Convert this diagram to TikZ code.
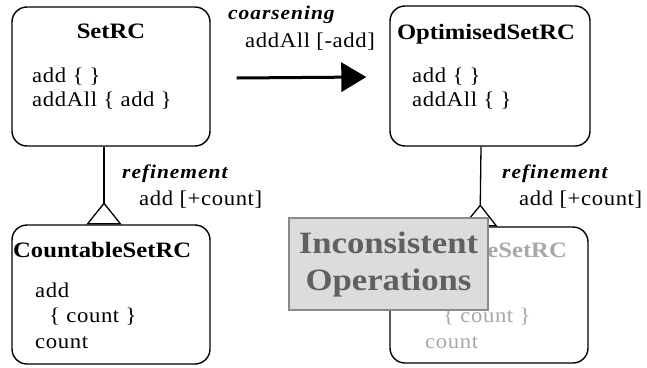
\documentclass[tikz,border=0pt]{standalone}
\usepackage{fontspec}
\usetikzlibrary{arrows.meta}
\newfontfamily\bodyf{Liberation Serif}[LetterSpace=3,FakeStretch=1.08]
\newfontfamily\titlef{Liberation Serif}[FakeStretch=1.12]
\newfontfamily\labelf{Liberation Serif}[LetterSpace=5,FakeStretch=1.1]
\definecolor{fadetext}{HTML}{A8A8A8}
\definecolor{warnfill}{HTML}{DCDCDC}
\definecolor{warnline}{HTML}{8A8A8A}
\definecolor{warntext}{HTML}{606060}
\tikzset{
  classbox/.style={draw, line width=1.4pt, rounded corners=15pt, fill=white, inner sep=0pt},
  classtitle/.style={inner sep=0pt, font=\titlef\bfseries\fontsize{22}{26}\selectfont},
  member/.style={inner sep=0pt, anchor=base west, font=\bodyf\fontsize{21}{26}\selectfont},
  relname/.style={inner sep=0pt, anchor=base west, font=\labelf\bfseries\itshape\fontsize{19.5}{24}\selectfont},
  reflink/.style={line width=1.3pt, -{Triangle[open,reversed,length=22pt,width=35pt,line width=1.3pt]}},
  coarselink/.style={line width=3pt, -{Triangle[length=25pt,width=29pt]}},
  warnbox/.style={draw=warnline, line width=1.5pt, fill=warnfill, inner sep=0pt},
  warnlabel/.style={inner sep=0pt, text=warntext, font=\titlef\bfseries\fontsize{31}{36}\selectfont}
}
\begin{document}
\begin{tikzpicture}[x=1pt,y=-1pt]
\useasboundingbox (0,0) rectangle (647,367);

% class boxes
\node[classbox, minimum width=198pt, minimum height=139pt] (setrc) at (111,76.5) {};
\node[classbox, minimum width=200pt, minimum height=140pt] (opt) at (490,76) {};
\node[classbox, minimum width=198pt, minimum height=139pt] (count) at (111,294.5) {};
\node[classbox, minimum width=198pt, minimum height=136pt] (optcount) at (489,295) {};

% SetRC
\node[classtitle, anchor=base] (setrcT) at (111,38) {SetRC};
\node[member] (setrcA) at (32,82) {add \{ \}};
\node[member] (setrcB) at (32,106) {addAll \{ add \}};

% OptimisedSetRC
\node[classtitle, anchor=base] (optT) at (486,39) {OptimisedSetRC};
\node[member] (optA) at (412,82) {add \{ \}};
\node[member] (optB) at (412,106) {addAll \{ \}};

% CountableSetRC
\node[classtitle, anchor=base west] (countT) at (13,257) {CountableSetRC};
\node[member] (countA) at (35,297) {add};
\node[member] (countB) at (49,322) {\{ count \}};
\node[member] (countC) at (35,348) {count};

% the greyed-out combined class, partly covered by the overlay
\node[classtitle, anchor=base east, text=fadetext] (optcountT) at (567,257) {eSetRC};
\node[member, text=fadetext] (optcountB) at (443,322) {\{ count \}};
\node[member, text=fadetext] (optcountC) at (425,348) {count};

% coarsening step
\draw[coarselink] ([xshift=26pt,yshift=-1.5pt]setrc.east) -- ([xshift=-23pt,yshift=-1pt]opt.west);
\node[relname] (coarseL) at (228,19) {coarsening};
\node[member] (coarseM) at (245,47) {addAll [-add]};

% refinement steps
\draw[reflink] ([xshift=-7pt]setrc.south) -- ([xshift=-7pt]count.north);
\node[relname] (refL1) at (122,178) {refinement};
\node[member] (refM1) at (139,205) {add [+count]};

\draw[reflink] ([xshift=-9pt]opt.south) -- ([xshift=-9pt]optcount.north);
\node[relname] (refL2) at (502,178) {refinement};
\node[member] (refM2) at (519,205) {add [+count]};

% warning overlay
\node[warnbox, minimum width=199pt, minimum height=92pt] (warn) at (388.5,264) {};
\node[warnlabel, anchor=base] (warnA) at (388.5,253) {Inconsistent};
\node[warnlabel, anchor=base] (warnB) at (388.5,290) {Operations};
\end{tikzpicture}
\end{document}
